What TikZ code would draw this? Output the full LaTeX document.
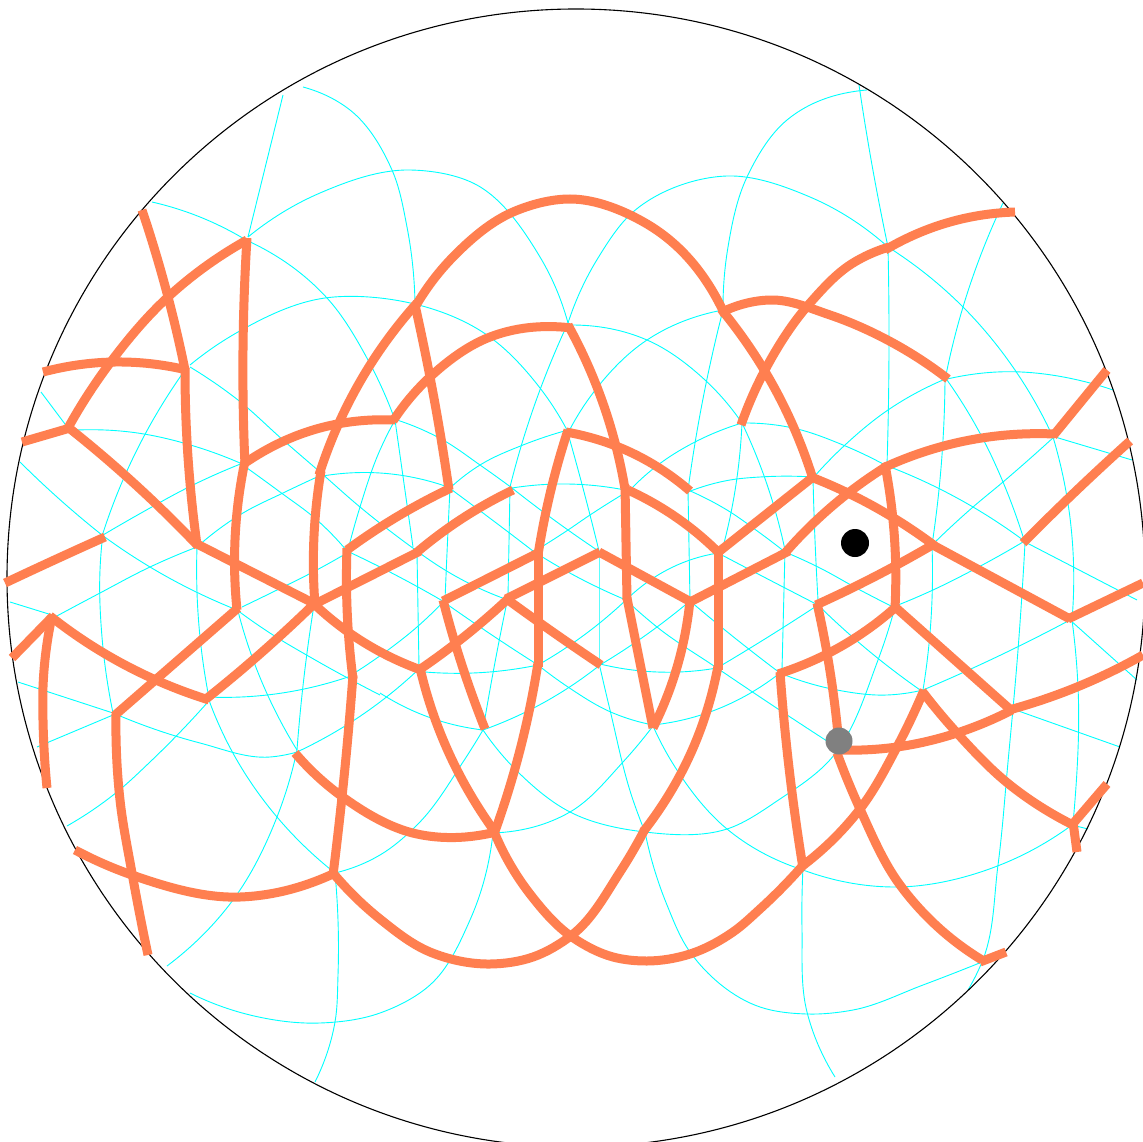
\documentclass[tikz,border=0pt]{standalone}
\definecolor{coralo}{HTML}{FF7F50}
\definecolor{cyanl}{HTML}{00FFFF}
\makeatletter
\newcommand\smline[2]{\def\sm@style{#1}\sm@start#2\sm@end}
\newif\ifsm@first
\def\sm@start(#1,#2)(#3,#4){%
  \def\sm@ax{#1}\def\sm@ay{#2}\def\sm@bx{#3}\def\sm@by{#4}%
  \edef\sm@path{(\sm@ax,\sm@ay)}\sm@firsttrue
  \sm@loop}
\def\sm@loop{\@ifnextchar(\sm@mid\sm@last}
\def\sm@seg{%
  \pgfmathsetmacro\sm@cax{\sm@ax+\sm@tax*\sm@la/3}%
  \pgfmathsetmacro\sm@cay{\sm@ay+\sm@tay*\sm@la/3}%
  \pgfmathsetmacro\sm@cbx{\sm@bx-\sm@tbx*\sm@la/3}%
  \pgfmathsetmacro\sm@cby{\sm@by-\sm@tby*\sm@la/3}%
  \edef\sm@path{\sm@path .. controls (\sm@cax,\sm@cay) and (\sm@cbx,\sm@cby) .. (\sm@bx,\sm@by)}}
\def\sm@mid(#1,#2){%
  \pgfmathsetmacro\sm@la{veclen(\sm@bx-\sm@ax,\sm@by-\sm@ay)}%
  \pgfmathsetmacro\sm@lc{veclen(#1-\sm@bx,#2-\sm@by)}%
  \pgfmathsetmacro\sm@wa{\sm@lc/(\sm@la+\sm@lc)}%
  \pgfmathsetmacro\sm@wc{\sm@la/(\sm@la+\sm@lc)}%
  \pgfmathsetmacro\sm@tbx{(\sm@bx-\sm@ax)/\sm@la*\sm@wa+(#1-\sm@bx)/\sm@lc*\sm@wc}%
  \pgfmathsetmacro\sm@tby{(\sm@by-\sm@ay)/\sm@la*\sm@wa+(#2-\sm@by)/\sm@lc*\sm@wc}%
  \ifsm@first
    \pgfmathsetmacro\sm@tax{2*(\sm@bx-\sm@ax)/\sm@la-\sm@tbx}%
    \pgfmathsetmacro\sm@tay{2*(\sm@by-\sm@ay)/\sm@la-\sm@tby}%
    \sm@firstfalse
  \fi
  \sm@seg
  \let\sm@ax\sm@bx\let\sm@ay\sm@by
  \def\sm@bx{#1}\def\sm@by{#2}%
  \let\sm@tax\sm@tbx\let\sm@tay\sm@tby
  \sm@loop}
\def\sm@last\sm@end{%
  \pgfmathsetmacro\sm@la{veclen(\sm@bx-\sm@ax,\sm@by-\sm@ay)}%
  \ifsm@first
    \pgfmathsetmacro\sm@tax{(\sm@bx-\sm@ax)/\sm@la}%
    \pgfmathsetmacro\sm@tay{(\sm@by-\sm@ay)/\sm@la}%
    \let\sm@tbx\sm@tax\let\sm@tby\sm@tay
  \else
    \pgfmathsetmacro\sm@tbx{2*(\sm@bx-\sm@ax)/\sm@la-\sm@tax}%
    \pgfmathsetmacro\sm@tby{2*(\sm@by-\sm@ay)/\sm@la-\sm@tay}%
  \fi
  \sm@seg
  \expandafter\sm@draw\expandafter{\sm@path}}
\def\sm@draw#1{\edef\sm@tmp{\noexpand\draw[\sm@style]}\sm@tmp #1;}
\makeatother
\newcommand{\cy}[1]{\smline{cyanline}{#1}}
\newcommand{\orr}[1]{\smline{orangeline}{#1}}
\tikzset{
 cyanline/.style={draw=cyanl,line width=0.9pt},
 orangeline/.style={draw=coralo,line width=9pt,line join=miter,line cap=butt},
 rim/.style={draw=black,line width=1.1pt}
}
\begin{document}
\begin{tikzpicture}[x=1pt,y=-1pt]
\useasboundingbox (0,0) rectangle (1143,1142);
\fill[white] (0,0) rectangle (1143,1142);
% cyan
\cy{(303,87)(350,110)(392,170)(407,227)(415,303)}
\cy{(450,488)(447,553)(445,600)}
\cy{(483,730)(518,772)(570,812)(645,832)(727,829)(780,799)(828,762)(878,660)(895,607)}
\cy{(887,465)(889,330)(888,247)}
\cy{(888,247)(872,165)(859,85)}
\cy{(283,95)(267,160)(248,237)}
\cy{(237,607)(257,670)(297,750)}
\cy{(493,833)(570,812)(623,762)(653,726)}
\cy{(690,601)(688,490)}
\cy{(688,490)(699,420)(723,310)}
\cy{(723,310)(728,247)(747,177)(787,120)(867,90)}
\cy{(197,547)(200,637)(210,703)}
\cy{(210,703)(238,762)(277,817)(335,873)}
\cy{(335,873)(380,855)(417,825)(463,762)(483,730)}
\cy{(483,730)(493,673)(508,597)}
\cy{(508,597)(510,487)}
\cy{(510,487)(523,440)(568,323)}
\cy{(568,323)(598,258)(633,212)(727,176)(810,197)(888,247)}
\cy{(888,247)(963,307)(1017,373)(1053,437)}
\cy{(1053,437)(1072,537)(1072,620)}
\cy{(1072,620)(1078,687)(1075,800)(1073,823)}
\cy{(152,202)(200,217)(246,240)}
\cy{(246,240)(327,298)(368,360)(395,420)}
\cy{(395,420)(413,547)}
\cy{(417,553)(419,667)}
\cy{(397,420)(443,440)(480,465)(512,488)}
\cy{(512,488)(568,530)(600,552)}
\cy{(690,601)(750,650)(780,673)}
\cy{(780,673)(837,690)(887,695)(923,690)}
\cy{(923,690)(973,668)(1070,620)}
\cy{(41,392)(68,428)}
\cy{(425,672)(473,673)(538,665)}
\cy{(538,665)(573,643)(626,600)}
\cy{(626,600)(690,560)(718,553)}
\cy{(813,478)(845,445)(888,410)(943,380)}
\cy{(943,380)(997,372)(1090,383)(1113,390)}
\cy{(20,462)(57,497)(102,535)}
\cy{(102,535)(150,567)(237,610)}
\cy{(237,610)(273,635)(310,657)(380,695)}
\cy{(380,693)(437,720)(483,730)}
\cy{(483,730)(543,703)(600,665)}
\cy{(600,665)(657,627)(690,601)}
\cy{(55,617)(100,593)(150,567)(197,547)}
\cy{(197,547)(243,513)(283,493)(317,477)}
\cy{(317,477)(380,473)(448,487)}
\cy{(448,487)(483,513)(533,551)}
\cy{(533,551)(583,580)(626,600)}
\cy{(626,600)(657,627)(717,668)(760,697)(830,743)}
\cy{(77,430)(130,432)(197,447)(240,463)}
\cy{(240,463)(280,492)(317,520)(347,551)}
\cy{(347,551)(380,567)(441,600)}
\cy{(441,600)(480,627)(538,665)}
\cy{(538,665)(568,687)(613,713)(653,725)}
\cy{(653,725)(707,713)(780,673)}
\cy{(10,602)(52,615)}
\cy{(207,697)(267,695)(348,677)}
\cy{(348,677)(388,650)(417,627)(444,601)}
\cy{(535,551)(568,530)(590,515)(630,490)}
\cy{(630,490)(662,462)(695,442)(742,423)}
\cy{(742,423)(793,428)(843,445)(885,465)}
\cy{(885,465)(973,507)(1027,543)}
\cy{(1027,543)(1137,600)}
\cy{(420,668)(380,702)(297,752)}
\cy{(297,752)(270,757)(200,743)(113,713)}
\cy{(113,713)(18,682)}
\cy{(103,535)(150,508)(183,490)(243,463)}
\cy{(185,370)(142,440)(103,533)}
\cy{(103,533)(100,570)(102,637)(113,713)}
\cy{(37,747)(113,715)}
\cy{(242,607)(277,590)(313,572)(347,553)}
\cy{(190,367)(238,400)(283,440)(320,472)(360,507)(417,551)}
\cy{(417,551)(483,590)(508,600)}
\cy{(600,664)(657,672)(717,668)}
\cy{(717,668)(760,642)(818,605)}
\cy{(190,365)(238,332)(325,298)(380,298)(487,335)(540,388)(567,430)}
\cy{(567,430)(590,515)(599,551)}
\cy{(599,551)(599,663)}
\cy{(599,663)(610,710)(633,800)(645,832)}
\cy{(645,832)(667,905)(690,952)(760,1007)(807,1014)(853,1010)(923,985)(982,962)}
\cy{(248,237)(320,193)(410,170)(473,183)(540,257)(568,323)}
\cy{(570,325)(647,340)(705,380)(742,423)}
\cy{(742,423)(760,465)(785,550)}
\cy{(785,550)(782,670)}
\cy{(803,867)(802,929)(807,1012)(835,1077)}
\cy{(723,310)(647,340)(593,393)(568,433)}
\cy{(348,550)(360,507)(380,450)(395,420)}
\cy{(335,873)(338,975)(335,1022)(315,1082)}
\cy{(190,993)(250,1015)(320,1023)(380,1013)(430,985)(470,920)(493,833)}
\cy{(167,966)(233,900)(277,817)(297,750)}
\cy{(297,750)(307,653)(314,605)}
\cy{(67,826)(117,792)(150,762)(207,703)}
\cy{(450,488)(480,465)(523,445)(568,430)}
\cy{(512,488)(567,484)(625,490)}
\cy{(688,492)(730,480)(760,477)(813,477)}
\cy{(688,490)(727,510)(760,533)(785,552)}
\cy{(785,552)(818,567)(860,590)(893,607)}
\cy{(893,607)(933,590)(973,570)(1023,542)}
\cy{(718,553)(760,575)(818,605)}
\cy{(818,605)(880,660)(923,692)}
\cy{(932,545)(973,507)(1003,482)(1055,436)}
\cy{(1055,437)(1132,460)}
\cy{(1010,708)(1120,747)}
\cy{(1070,620)(1137,680)}
\cy{(1003,203)(963,307)(945,380)}
\cy{(945,380)(943,440)(932,545)}
\cy{(932,545)(930,633)(923,690)}
\cy{(947,380)(982,437)(1003,482)(1025,543)}
\cy{(1025,543)(1018,650)(1008,762)(998,865)(982,962)(968,990)}
\cy{(742,423)(738,470)(723,547)}
\cy{(653,726)(675,767)(727,829)(803,870)}
\cy{(803,870)(893,887)(1000,865)(1072,825)}
\cy{(1072,825)(1088,829)}
\cy{(813,478)(815,540)(818,600)}
% rim
\draw[rim] (576,578) circle [radius=569];
% orange
\orr{(142,210)(168,297)(185,370)}
\orr{(185,368)(186,420)(197,545)}
\orr{(22,442)(70,428)}
\orr{(68,428)(110,363)(168,297)(247,240)}
\orr{(43,372)(115,362)(187,370)}
\orr{(247,238)(243,350)(245,465)}
\orr{(245,461)(235,540)(237,610)}
\orr{(245,463)(320,428)(395,420)}
\orr{(393,421)(430,377)(490,337)(572,328)}
\orr{(568,325)(600,395)(625,489)}
\orr{(625,485)(627,600)}
\orr{(627,598)(653,728)}
\orr{(653,728)(673,680)(690,600)}
\orr{(566,432)(630,452)(690,491)}
\orr{(568,430)(547,507)(538,555)}
\orr{(538,551)(538,667)}
\orr{(538,663)(520,750)(494,834)}
\orr{(538,553)(443,601)}
\orr{(443,600)(455,643)(485,729)}
\orr{(600,552)(506,599)}
\orr{(510,597)(460,640)(419,670)}
\orr{(508,600)(540,623)(601,665)}
\orr{(599,552)(691,602)}
\orr{(690,602)(789,551)}
\orr{(785,553)(830,508)(887,466)}
\orr{(883,468)(970,440)(1055,434)}
\orr{(1053,436)(1107,370)}
\orr{(628,490)(680,520)(720,554)}
\orr{(716,554)(813,477)}
\orr{(811,477)(852,495)(897,520)(935,546)}
\orr{(931,544)(1070,619)}
\orr{(1068,619)(1143,583)}
\orr{(718,552)(718,670)}
\orr{(718,666)(690,755)(643,832)}
\orr{(645,829)(620,872)(572,935)(533,957)(490,964)(430,952)(380,919)(333,873)}
\orr{(315,605)(315,520)(321,471)}
\orr{(319,475)(338,425)(380,350)(417,303)}
\orr{(414,309)(453,257)(513,212)(570,199)(647,224)(725,315)}
\orr{(721,309)(770,380)(813,479)}
\orr{(415,305)(430,377)(449,490)}
\orr{(451,488)(400,515)(347,550)}
\orr{(347,548)(348,627)(353,679)}
\orr{(353,675)(342,797)(333,875)}
\orr{(513,490)(463,518)(416,553)}
\orr{(420,551)(313,605)}
\orr{(197,544)(317,605)}
\orr{(313,603)(360,640)(421,670)}
\orr{(69,428)(127,477)(198,546)}
\orr{(5,583)(50,562)(105,537)}
\orr{(12,658)(53,616)}
\orr{(52,616)(43,687)(43,720)(47,788)}
\orr{(50,616)(125,665)(209,700)}
\orr{(206,699)(253,660)(315,603)}
\orr{(238,608)(114,716)}
\orr{(116,714)(120,800)(132,873)(148,955)}
\orr{(75,850)(132,875)(240,897)(335,873)}
\orr{(295,753)(340,795)(417,834)(496,832)}
\orr{(420,668)(438,727)(495,832)}
\orr{(493,829)(530,894)(572,937)(613,957)(647,961)(690,954)(733,932)(760,909)(805,863)}
\orr{(801,867)(860,809)(897,747)(924,690)}
\orr{(922,691)(957,733)(1010,785)(1073,825)}
\orr{(1071,826)(1107,784)}
\orr{(1073,822)(1077,852)}
\orr{(837,753)(860,809)(900,885)(947,935)(982,960)}
\orr{(980,962)(1006,952)}
\orr{(817,603)(827,653)(839,745)}
\orr{(816,605)(893,567)(934,544)}
\orr{(885,465)(893,520)(895,608)}
\orr{(894,606)(1012,711)}
\orr{(1009,710)(1077,687)(1143,655)}
\orr{(897,606)(840,647)(778,674)}
\orr{(780,672)(793,800)(803,868)}
\orr{(840,750)(897,747)(957,733)(1012,710)}
\orr{(1023,543)(1077,490)(1130,441)}
\orr{(741,425)(765,370)(810,303)(853,263)(889,247)}
\orr{(885,250)(950,222)(1015,212)}
\orr{(722,312)(770,300)(830,315)(893,343)(948,379)}
% dots
\node[circle,fill=black,inner sep=0pt,minimum size=28pt] (blackpt) at (855,543) {};
\node[circle,fill=gray,inner sep=0pt,minimum size=27pt] (graypt) at (839,741) {};
\end{tikzpicture}
\end{document}
